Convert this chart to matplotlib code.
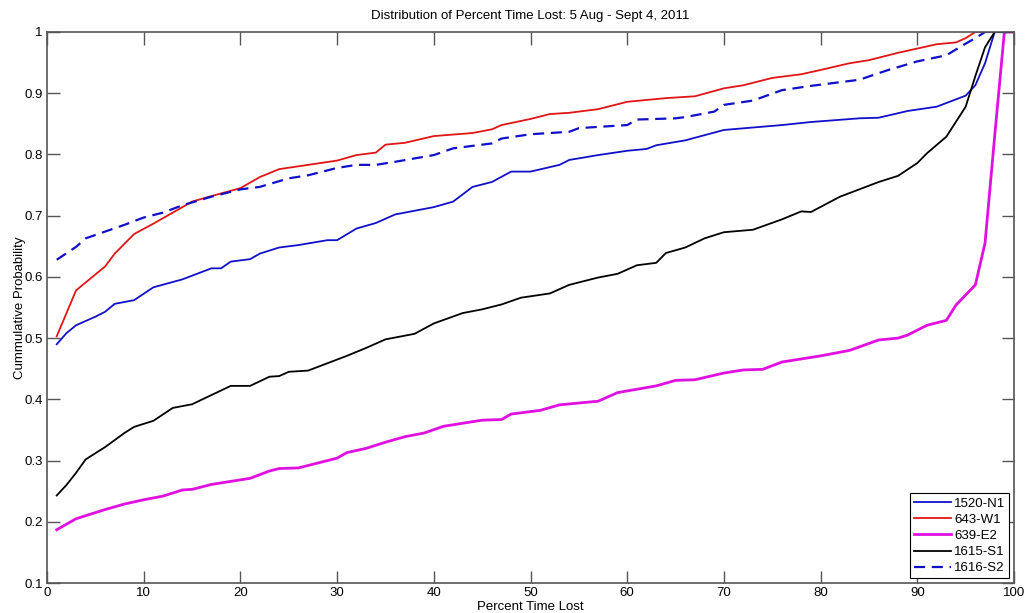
import matplotlib
matplotlib.use('Agg')
import matplotlib.pyplot as plt

# cumulative probability curves
n1_x = [1, 2, 3, 5, 6, 7, 9, 11, 14, 17, 18, 19, 21, 22, 24, 26, 29, 30, 32, 34, 36, 40, 42, 44, 46, 48, 50,
        53, 54, 57, 60, 62, 63, 66, 70, 76, 79, 84, 86, 89, 92, 95, 96, 97, 98, 100]
n1_y = [.490, .508, .521, .535, .543, .556, .562, .583, .596, .614, .614, .625, .629, .638, .648, .652, .660,
        .660, .679, .688, .702, .714, .723, .747, .755, .772, .772, .783, .791, .799, .806, .809, .815, .823,
        .840, .848, .853, .859, .860, .871, .878, .896, .913, .949, 1.0, 1.0]

w1_x = [1, 3, 6, 7, 9, 11, 13, 15, 17, 20, 22, 24, 27, 30, 32, 34, 35, 37, 40, 44, 46, 47, 50, 52, 54, 57,
        60, 64, 67, 70, 72, 75, 78, 80, 83, 85, 88, 90, 92, 94, 95, 96, 100]
w1_y = [.503, .578, .617, .638, .670, .687, .705, .723, .732, .745, .763, .776, .783, .790, .799, .803, .816,
        .819, .830, .835, .841, .848, .858, .866, .868, .874, .886, .892, .895, .908, .913, .925, .931, .938,
        .949, .954, .966, .973, .980, .983, .990, 1.0, 1.0]

e2_x = [1, 3, 6, 8, 10, 12, 14, 15, 17, 19, 21, 23, 24, 26, 28, 30, 31, 33, 35, 37, 39, 41, 45, 47, 48, 51,
        53, 57, 59, 63, 65, 67, 70, 72, 74, 76, 80, 83, 86, 88, 89, 91, 93, 94, 96, 97, 98, 99, 100]
e2_y = [.187, .205, .220, .229, .236, .242, .252, .253, .261, .266, .271, .283, .287, .288, .296, .304, .313,
        .320, .330, .339, .345, .356, .366, .367, .376, .382, .391, .397, .411, .422, .431, .432, .443, .448,
        .449, .461, .471, .480, .497, .500, .505, .521, .529, .554, .587, .655, .83, 1.0, 1.0]

s1_x = [1, 2, 3, 4, 6, 8, 9, 11, 13, 15, 17, 19, 21, 23, 24, 25, 27, 29, 31, 33, 35, 38, 40, 43, 45, 47, 49,
        52, 54, 57, 59, 61, 63, 64, 66, 68, 70, 73, 76, 78, 79, 82, 86, 88, 90, 91, 93, 95, 96, 97, 98, 100]
s1_y = [.243, .260, .280, .302, .322, .345, .355, .365, .386, .392, .407, .422, .422, .437, .438, .445, .447,
        .459, .471, .484, .498, .507, .524, .541, .547, .555, .566, .573, .587, .599, .605, .619, .623, .639,
        .648, .663, .673, .677, .694, .707, .706, .731, .755, .765, .786, .802, .829, .878, .928, .975, 1.0, 1.0]

s2_x = [1, 3, 4, 6, 8, 10, 12, 14, 17, 20, 22, 25, 27, 30, 32, 34, 36, 40, 42, 46, 47, 50, 54, 55, 60, 61,
        65, 66, 69, 70, 73, 76, 79, 81, 84, 87, 90, 93, 95, 96, 97, 100]
s2_y = [.628, .649, .663, .674, .685, .697, .705, .717, .731, .743, .747, .761, .766, .778, .783, .783, .788,
        .799, .810, .818, .826, .833, .837, .843, .848, .857, .859, .861, .870, .881, .888, .905, .912, .916,
        .922, .938, .952, .962, .981, .990, 1.0, 1.0]

x_ticks = [0, 10, 20, 30, 40, 50, 60, 70, 80, 90, 100]
y_ticks = [0.1, 0.2, 0.3, 0.4, 0.5, 0.6, 0.7, 0.8, 0.9, 1.0]
y_labels = ['0.1', '0.2', '0.3', '0.4', '0.5', '0.6', '0.7', '0.8', '0.9', '1']

plt.rcParams['font.family'] = ['Liberation Sans', 'DejaVu Sans']

fig = plt.figure(figsize=(10.25, 6.13), dpi=100)
ax = fig.add_axes([0.0459, 0.0489, 0.9434, 0.8989])

ax.plot(n1_x, n1_y, color='#1010c8', lw=1.3, label='1520-N1')
ax.plot(w1_x, w1_y, color='#e01515', lw=1.3, label='643-W1')
ax.plot(e2_x, e2_y, color='#e010e0', lw=2.0, label='639-E2')
ax.plot(s1_x, s1_y, color='black', lw=1.3, label='1615-S1')
ax.plot(s2_x, s2_y, color='#1010c8', lw=1.6, ls=(0, (5, 3)), label='1616-S2')

ax.set_xlim(0, 100)
ax.set_ylim(0.1, 1)
ax.set_xticks(x_ticks)
ax.set_yticks(y_ticks)
ax.set_yticklabels(y_labels)
ax.tick_params(direction='in', length=9, width=1, colors='#555555', labelcolor='black',
               labelsize=9.5, top=True, right=True, pad=3)
for s in ax.spines.values():
    s.set_color('#555555')
    s.set_linewidth(1.2)

ax.set_title('Distribution of Percent Time Lost: 5 Aug - Sept 4, 2011', fontsize=9.5, pad=9)
ax.set_xlabel('Percent Time Lost', fontsize=9.5, labelpad=1)
ax.set_ylabel('Cummulative Probability', fontsize=9.5, labelpad=-1)

leg = ax.legend(loc='lower right', fontsize=9.5, fancybox=False, framealpha=1, edgecolor='black',
                handlelength=2.8, handletextpad=0.25, borderaxespad=0.35, labelspacing=0.3,
                borderpad=0.3)
leg.get_frame().set_linewidth(0.8)

fig.savefig('out.png', dpi=100)
